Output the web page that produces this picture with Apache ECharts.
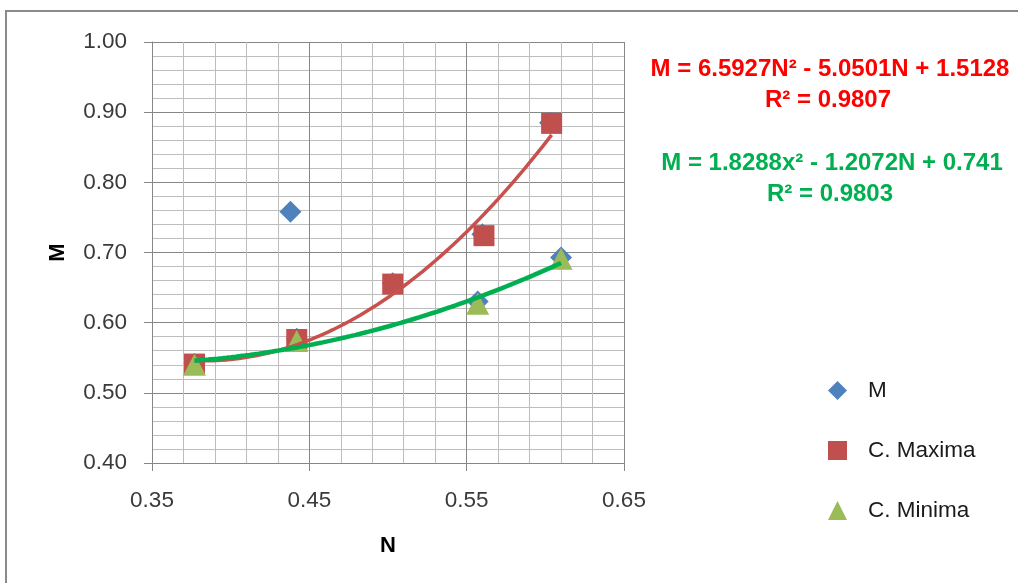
<!DOCTYPE html>
<html>
<head>
<meta charset="utf-8">
<script src="https://cdn.jsdelivr.net/npm/echarts@6/dist/echarts.min.js"></script>
<style>
  html, body { margin: 0; padding: 0; background: #ffffff; }
  #chart { width: 1018px; height: 583px; }
</style>
</head>
<body>
<div id="chart"></div>
<script>
// Measured points: N on the horizontal axis, M on the vertical axis
const mPoints = [
  [0.377, 0.541], [0.438, 0.758], [0.442, 0.577], [0.503, 0.656],
  [0.557, 0.630], [0.560, 0.726], [0.603, 0.885], [0.610, 0.693]
];
const maximaPoints = [
  [0.377, 0.541], [0.442, 0.576], [0.503, 0.655], [0.561, 0.724], [0.604, 0.884]
];
const minimaPoints = [
  [0.377, 0.540], [0.442, 0.574], [0.557, 0.627], [0.610, 0.691]
];

// Quadratic trend coefficients [a, b, c] for M = aN² + bN + c
const maximaFit = [6.5927, -5.0501, 1.5128];
const minimaFit = [1.8288, -1.2072, 0.741];
const maximaR2 = '0.9807';
const minimaR2 = '0.9803';

// Axis ranges and tick labels
const xTicks = ['0.35', '0.45', '0.55', '0.65'];
const yTicks = ['0.40', '0.50', '0.60', '0.70', '0.80', '0.90', '1.00'];

const FONT = "'Liberation Sans', Arial, sans-serif";

// Evaluate a fitted quadratic across the span of its own data
function trendLine(fit, pts, steps) {
  const lo = pts[0][0], hi = pts[pts.length - 1][0];
  const out = [];
  for (let i = 0; i <= steps; i++) {
    const n = lo + (hi - lo) * i / steps;
    out.push([n, fit[0] * n * n + fit[1] * n + fit[2]]);
  }
  return out;
}

function eqText(fit, sq) {
  return 'M = ' + fit[0] + sq + '² - ' + (-fit[1]) + 'N + ' + fit[2];
}

const chart = echarts.init(document.getElementById('chart'), null, { renderer: 'canvas' });

const minorLine = { show: true, lineStyle: { color: '#bdbdbd', width: 1 } };
const majorLine = { show: true, lineStyle: { color: '#878787', width: 1 } };

chart.setOption({
  animation: false,
  backgroundColor: '#ffffff',
  grid: { left: 152, right: 394, top: 42, bottom: 120 },
  xAxis: {
    type: 'value',
    min: Number(xTicks[0]), max: Number(xTicks[xTicks.length - 1]), interval: 0.1,
    name: 'N', nameLocation: 'middle', nameGap: 72,
    nameTextStyle: { fontFamily: FONT, fontWeight: 'bold', fontSize: 22, color: '#000' },
    axisLine: { show: true, onZero: false, lineStyle: { color: '#878787', width: 1 } },
    axisTick: { show: true, length: 8, lineStyle: { color: '#878787' } },
    minorTick: { show: false, splitNumber: 5 },
    splitLine: majorLine,
    minorSplitLine: minorLine,
    axisLabel: {
      margin: 26, fontFamily: FONT, fontSize: 22.5, color: '#3a3a3a',
      formatter: v => v.toFixed(2)
    }
  },
  yAxis: {
    type: 'value',
    min: Number(yTicks[0]), max: Number(yTicks[yTicks.length - 1]), interval: 0.1,
    name: 'M', nameLocation: 'middle', nameGap: 83, nameRotate: 90,
    nameTextStyle: { fontFamily: FONT, fontWeight: 'bold', fontSize: 22, color: '#000' },
    axisLine: { show: true, onZero: false, lineStyle: { color: '#878787', width: 1 } },
    axisTick: { show: true, length: 8, lineStyle: { color: '#878787' } },
    minorTick: { show: false, splitNumber: 5 },
    splitLine: majorLine,
    minorSplitLine: minorLine,
    axisLabel: {
      margin: 25, fontFamily: FONT, fontSize: 22.5, color: '#3a3a3a',
      formatter: v => v.toFixed(2)
    }
  },
  legend: {
    orient: 'vertical',
    left: 823, top: 374,
    itemWidth: 19, itemHeight: 19, itemGap: 37,
    data: [
      { name: 'M', icon: 'diamond' },
      { name: 'C. Maxima', icon: 'rect' },
      { name: 'C. Minima', icon: 'triangle' }
    ],
    textStyle: { fontFamily: FONT, fontSize: 22.5, color: '#1a1a1a', padding: [0, 0, 0, 16] }
  },
  graphic: [
    {
      type: 'rect', silent: true, z: -1,
      shape: { x: 6, y: 11, width: 1100, height: 700 },
      style: { fill: 'none', stroke: '#8a8a8a', lineWidth: 2 }
    },
    {
      type: 'text', x: 830, y: 69,
      style: { text: eqText(maximaFit, 'N'), fill: '#ff0000', font: 'bold 24px ' + FONT, align: 'center', verticalAlign: 'middle' }
    },
    {
      type: 'text', x: 828, y: 100,
      style: { text: 'R² = ' + maximaR2, fill: '#ff0000', font: 'bold 24px ' + FONT, align: 'center', verticalAlign: 'middle' }
    },
    {
      type: 'text', x: 832, y: 163,
      style: { text: eqText(minimaFit, 'x'), fill: '#00b050', font: 'bold 24px ' + FONT, align: 'center', verticalAlign: 'middle' }
    },
    {
      type: 'text', x: 830, y: 194,
      style: { text: 'R² = ' + minimaR2, fill: '#00b050', font: 'bold 24px ' + FONT, align: 'center', verticalAlign: 'middle' }
    }
  ],
  series: [
    {
      name: 'M', type: 'scatter', data: mPoints,
      symbol: 'diamond', symbolSize: 22,
      itemStyle: { color: '#4f81bd', opacity: 1 }, z: 2
    },
    {
      name: 'C. Maxima', type: 'scatter', data: maximaPoints,
      symbol: 'rect', symbolSize: 21,
      itemStyle: { color: '#c0504d', opacity: 1 }, z: 3
    },
    {
      name: 'C. Minima', type: 'scatter', data: minimaPoints,
      symbol: 'triangle', symbolSize: [23, 22],
      itemStyle: { color: '#9bbb59', opacity: 1 }, z: 4
    },
    {
      name: 'Maxima trend', type: 'line', data: trendLine(maximaFit, maximaPoints, 80),
      showSymbol: false, symbol: 'none', silent: true,
      lineStyle: { color: '#c8504d', width: 3.5 }, z: 5
    },
    {
      name: 'Minima trend', type: 'line', data: trendLine(minimaFit, minimaPoints, 80),
      showSymbol: false, symbol: 'none', silent: true,
      lineStyle: { color: '#00b050', width: 4.5 }, z: 6
    }
  ]
});
</script>
</body>
</html>
